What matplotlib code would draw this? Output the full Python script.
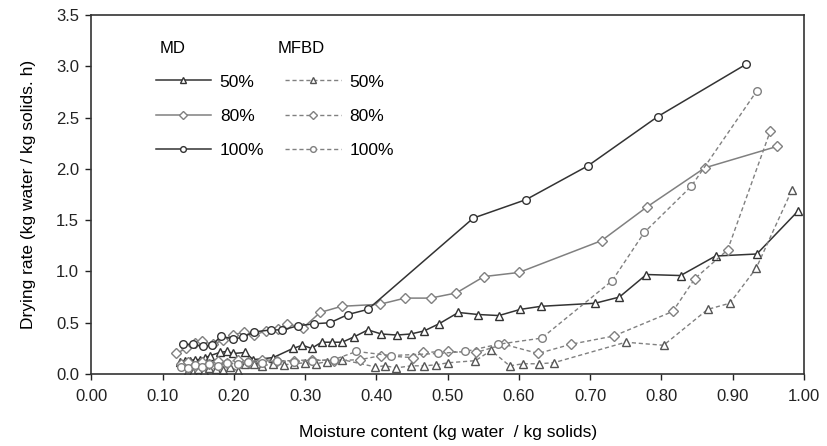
import matplotlib
matplotlib.use("Agg")
from matplotlib import pyplot as plt

plt.rcParams['font.family'] = ['Liberation Sans', 'DejaVu Sans']

# MD series
md50_x = [0.124, 0.131, 0.138, 0.145, 0.152, 0.160, 0.167, 0.180, 0.190, 0.199,
          0.216, 0.227, 0.255, 0.283, 0.296, 0.309, 0.323, 0.337, 0.352, 0.368,
          0.388, 0.407, 0.429, 0.448, 0.467, 0.488, 0.515, 0.543, 0.572, 0.602,
          0.631, 0.707, 0.741, 0.779, 0.827, 0.876, 0.934, 0.992]
md50_y = [0.12, 0.13, 0.13, 0.14, 0.14, 0.16, 0.18, 0.21, 0.22, 0.20,
          0.21, 0.14, 0.16, 0.25, 0.28, 0.25, 0.31, 0.31, 0.31, 0.36,
          0.43, 0.39, 0.38, 0.39, 0.42, 0.49, 0.60, 0.58, 0.57, 0.63,
          0.66, 0.69, 0.75, 0.97, 0.96, 1.15, 1.17, 1.59]

md80_x = [0.119, 0.133, 0.146, 0.155, 0.170, 0.185, 0.199, 0.214, 0.228, 0.245,
          0.262, 0.275, 0.297, 0.321, 0.351, 0.405, 0.440, 0.476, 0.512, 0.551,
          0.600, 0.716, 0.780, 0.861, 0.963]
md80_y = [0.20, 0.25, 0.30, 0.32, 0.29, 0.33, 0.38, 0.41, 0.38, 0.42,
          0.44, 0.49, 0.45, 0.60, 0.66, 0.68, 0.74, 0.74, 0.79, 0.95,
          0.99, 1.30, 1.63, 2.01, 2.22]

md100_x = [0.129, 0.142, 0.156, 0.169, 0.182, 0.199, 0.213, 0.228, 0.252, 0.268,
           0.290, 0.313, 0.335, 0.360, 0.388, 0.536, 0.610, 0.697, 0.795, 0.919]
md100_y = [0.29, 0.29, 0.27, 0.28, 0.37, 0.34, 0.36, 0.41, 0.43, 0.43,
           0.47, 0.49, 0.50, 0.58, 0.63, 1.52, 1.70, 2.03, 2.51, 3.02]

# MFBD series
mf50_x = [0.135, 0.142, 0.150, 0.158, 0.165, 0.175, 0.185, 0.195, 0.205, 0.215,
          0.228, 0.240, 0.255, 0.270, 0.285, 0.300, 0.315, 0.330, 0.352, 0.398,
          0.412, 0.428, 0.449, 0.467, 0.484, 0.501, 0.539, 0.561, 0.587, 0.606,
          0.628, 0.649, 0.750, 0.803, 0.865, 0.896, 0.933, 0.983]
mf50_y = [0.03, 0.02, 0.05, 0.03, 0.06, 0.05, 0.04, 0.07, 0.03, 0.10,
          0.10, 0.08, 0.10, 0.09, 0.10, 0.11, 0.10, 0.12, 0.14, 0.07,
          0.08, 0.06, 0.08, 0.08, 0.09, 0.11, 0.13, 0.23, 0.08, 0.10,
          0.10, 0.11, 0.31, 0.28, 0.63, 0.69, 1.03, 1.79]

mf80_x = [0.125, 0.135, 0.145, 0.155, 0.165, 0.178, 0.190, 0.205, 0.220, 0.240,
          0.260, 0.285, 0.310, 0.340, 0.377, 0.407, 0.451, 0.465, 0.500, 0.540,
          0.579, 0.627, 0.673, 0.733, 0.816, 0.847, 0.893, 0.953]
mf80_y = [0.10, 0.12, 0.08, 0.12, 0.10, 0.13, 0.11, 0.14, 0.12, 0.14,
          0.13, 0.13, 0.14, 0.13, 0.14, 0.18, 0.16, 0.21, 0.22, 0.21,
          0.29, 0.20, 0.29, 0.37, 0.61, 0.93, 1.21, 2.37]

mf100_x = [0.125, 0.135, 0.145, 0.155, 0.165, 0.178, 0.190, 0.205, 0.220, 0.240,
           0.260, 0.285, 0.310, 0.340, 0.372, 0.420, 0.487, 0.525, 0.571, 0.632,
           0.731, 0.776, 0.842, 0.934]
mf100_y = [0.07, 0.06, 0.09, 0.07, 0.10, 0.08, 0.11, 0.10, 0.12, 0.11,
           0.13, 0.12, 0.13, 0.14, 0.22, 0.18, 0.20, 0.22, 0.29, 0.35,
           0.91, 1.38, 1.83, 2.76]

fig = plt.figure(figsize=(8.27, 4.46), dpi=100)
ax = fig.add_axes([0.1106, 0.1614, 0.8614, 0.805])

dark = "#333333"
grey = "#808080"
ms = 5.5
dash = (0, (3, 2))

l1, = ax.plot(md50_x, md50_y, color=dark, lw=1.1, marker="^", ms=ms, mfc="white", mec=dark, label="50%")
l2, = ax.plot(md80_x, md80_y, color=grey, lw=1.1, marker="D", ms=ms, mfc="white", mec=grey, label="80%")
l3, = ax.plot(md100_x, md100_y, color=dark, lw=1.1, marker="o", ms=ms, mfc="white", mec=dark, label="100%")
d1, = ax.plot(mf50_x, mf50_y, color=grey, lw=1.0, ls=dash, marker="^", ms=ms, mfc="white", mec="#555555", label="50%")
d2, = ax.plot(mf80_x, mf80_y, color=grey, lw=1.0, ls=dash, marker="D", ms=ms, mfc="white", mec=grey, label="80%")
d3, = ax.plot(mf100_x, mf100_y, color=grey, lw=1.0, ls=dash, marker="o", ms=ms, mfc="white", mec=grey, label="100%")

ax.set_xlim(0, 1)
ax.set_ylim(0, 3.5)
ax.set_xticks([i / 10 for i in range(11)])
ax.set_xticklabels(["%.2f" % (i / 10) for i in range(11)])
ax.set_yticks([i / 2 for i in range(8)])
ax.set_yticklabels(["%.1f" % (i / 2) for i in range(8)])
ax.tick_params(direction="out", length=4, width=1, labelsize=12, colors="#222222")
ax.tick_params(axis="x", pad=7)
ax.tick_params(axis="y", pad=5)
for s in ax.spines.values():
    s.set_linewidth(1.2)
    s.set_color("#333333")

ax.set_xlabel("Moisture content (kg water  / kg solids)", fontsize=12.5, labelpad=15)
ax.set_ylabel("Drying rate (kg water / kg solids. h)", fontsize=12.5, labelpad=14)

leg = ax.legend(handles=[l1, l2, l3, d1, d2, d3], ncol=2, frameon=False,
                loc="upper left", bbox_to_anchor=(0.068, 0.878),
                fontsize=12.5, handlelength=3.2, handletextpad=0.5,
                labelspacing=1.1, columnspacing=1.2, markerscale=0.75)
ax.text(0.095, 0.908, "MD", transform=ax.transAxes, fontsize=12, va="center")
ax.text(0.262, 0.908, "MFBD", transform=ax.transAxes, fontsize=12, va="center")

fig.savefig("out.png", dpi=100)
